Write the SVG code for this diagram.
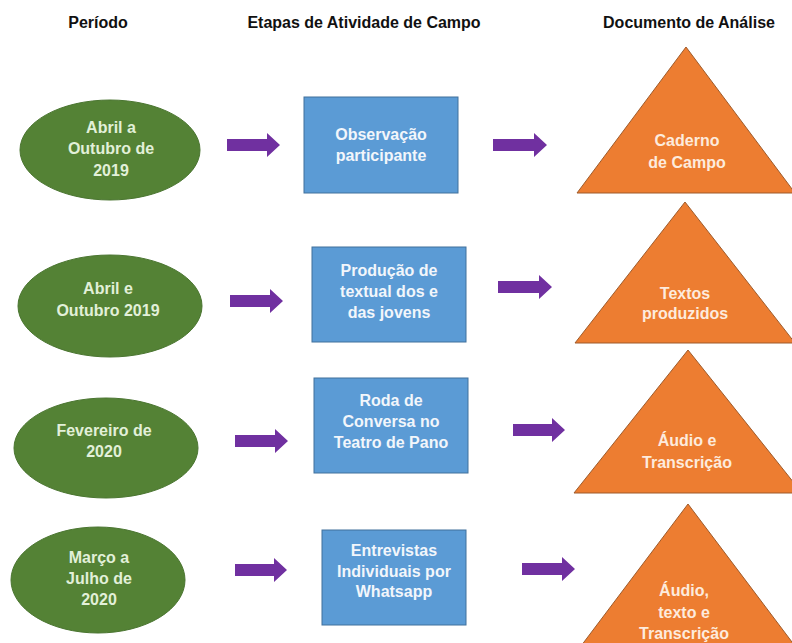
<svg xmlns="http://www.w3.org/2000/svg" width="792" height="643" viewBox="0 0 792 643">
<style>
text{font-family:"Liberation Sans",Arial,sans-serif;font-weight:bold;text-anchor:middle}
.hd{font-size:16px;fill:#111}
.t{font-size:16px}
.el{fill:#548235;stroke:#4A7530;stroke-width:1}
.elt{fill:#E2F0D9}
.bx{fill:#5B9BD5;stroke:#41719C;stroke-width:1}
.bxt{fill:#F2F6FB}
.tr{fill:#ED7D31;stroke:#9E5B2B;stroke-width:1}
.trt{fill:#FDEBDD}
.ar{fill:#7030A0}
</style>
<rect width="792" height="643" fill="#fff"/>
<g id="headers">
<text class="hd" x="98" y="28">Período</text>
<text class="hd" x="364" y="28">Etapas de Atividade de Campo</text>
<text class="hd" x="689" y="28">Documento de Análise</text>
</g>
<g id="p1"><ellipse class="el" cx="110" cy="150" rx="90" ry="50"/>
<text class="t elt"><tspan x="111" y="133">Abril a</tspan><tspan x="111" y="154">Outubro de</tspan><tspan x="111" y="176">2019</tspan></text></g>
<g id="p2"><ellipse class="el" cx="110" cy="306" rx="92" ry="51"/>
<text class="t elt"><tspan x="108" y="294">Abril e</tspan><tspan x="108" y="316">Outubro 2019</tspan></text></g>
<g id="p3"><ellipse class="el" cx="106" cy="448" rx="92" ry="50"/>
<text class="t elt"><tspan x="104" y="436">Fevereiro de</tspan><tspan x="104" y="457">2020</tspan></text></g>
<g id="p4"><ellipse class="el" cx="98" cy="580" rx="87" ry="53"/>
<text class="t elt"><tspan x="99" y="563">Março a</tspan><tspan x="99" y="584">Julho de</tspan><tspan x="99" y="605">2020</tspan></text></g>
<g id="e1"><rect class="bx" x="304" y="97" width="154" height="96"/>
<text class="t bxt"><tspan x="381" y="140">Observação</tspan><tspan x="381" y="161">participante</tspan></text></g>
<g id="e2"><rect class="bx" x="312" y="247" width="154" height="95"/>
<text class="t bxt"><tspan x="389" y="276">Produção de</tspan><tspan x="389" y="297">textual dos e</tspan><tspan x="389" y="318">das jovens</tspan></text></g>
<g id="e3"><rect class="bx" x="314" y="378" width="154" height="95"/>
<text class="t bxt"><tspan x="391" y="406">Roda de</tspan><tspan x="391" y="427">Conversa no</tspan><tspan x="391" y="448">Teatro de Pano</tspan></text></g>
<g id="e4"><rect class="bx" x="322" y="530" width="144" height="95"/>
<text class="t bxt"><tspan x="394" y="556">Entrevistas</tspan><tspan x="394" y="577">Individuais por</tspan><tspan x="394" y="597">Whatsapp</tspan></text></g>
<g id="d1"><polygon class="tr" points="686,47 577,193 795,193"/>
<text class="t trt"><tspan x="687" y="146">Caderno</tspan><tspan x="687" y="168">de Campo</tspan></text></g>
<g id="d2"><polygon class="tr" points="685,202 575,343 795,343"/>
<text class="t trt"><tspan x="685" y="299">Textos</tspan><tspan x="685" y="319">produzidos</tspan></text></g>
<g id="d3"><polygon class="tr" points="688,350 574,493 802,493"/>
<text class="t trt"><tspan x="687" y="446">Áudio e</tspan><tspan x="687" y="468">Transcrição</tspan></text></g>
<g id="d4"><polygon class="tr" points="688,504 578,650 798,650"/>
<text class="t trt"><tspan x="684" y="596">Áudio,</tspan><tspan x="684" y="618">texto e</tspan><tspan x="684" y="639">Transcrição</tspan></text></g>
<g id="connectors">
<path class="ar" d="M227,139 H267 V133 L280,145 L267,157 V151 H227 Z"/>
<path class="ar" d="M493,139 H534 V133 L547,145 L534,157 V151 H493 Z"/>
<path class="ar" d="M230,295 H270 V289 L283,301 L270,313 V307 H230 Z"/>
<path class="ar" d="M498,281 H539 V275 L552,287 L539,299 V293 H498 Z"/>
<path class="ar" d="M235,435 H275 V429 L288,441 L275,453 V447 H235 Z"/>
<path class="ar" d="M513,424 H552 V418 L565,430 L552,442 V436 H513 Z"/>
<path class="ar" d="M235,564 H274 V558 L287,570 L274,582 V576 H235 Z"/>
<path class="ar" d="M522,563 H562 V557 L575,569 L562,581 V575 H522 Z"/>
</g>
</svg>
